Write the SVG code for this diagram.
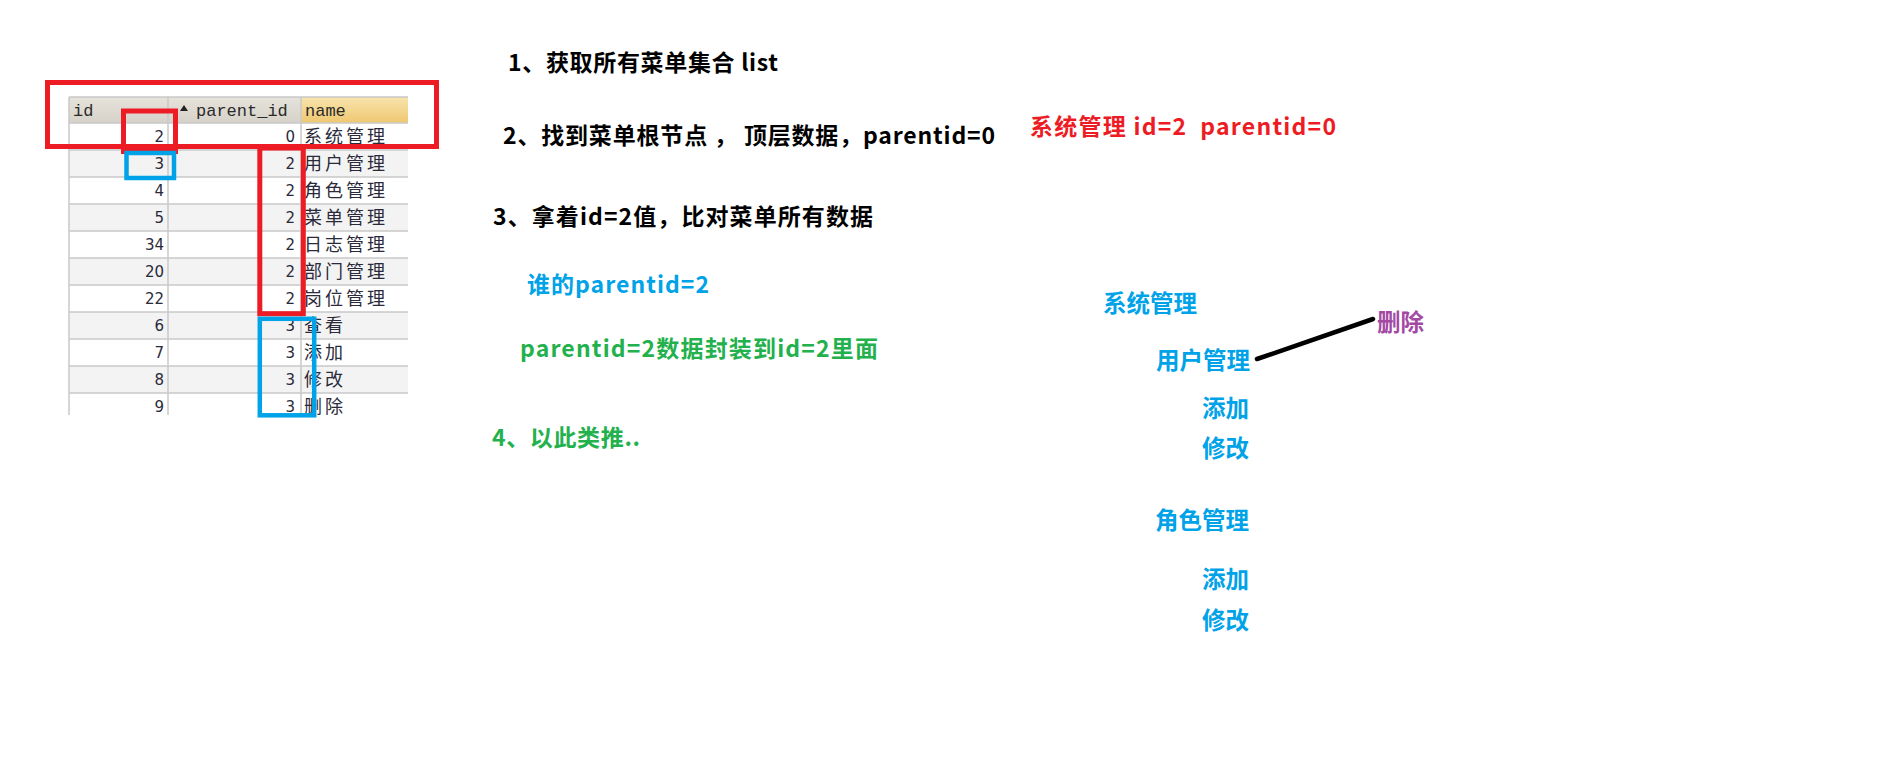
<svg xmlns="http://www.w3.org/2000/svg" width="1901" height="770" viewBox="0 0 1901 770">
<defs>
<linearGradient id="hdrGray" x1="0" y1="0" x2="0" y2="1"><stop offset="0" stop-color="#e6e3dc"/><stop offset="1" stop-color="#d6d2c9"/></linearGradient>
<linearGradient id="hdrName" x1="0" y1="0" x2="0" y2="1"><stop offset="0" stop-color="#f8e4ad"/><stop offset="1" stop-color="#efc770"/></linearGradient>
<clipPath id="tblClip"><rect x="60" y="90" width="348" height="325"/></clipPath>
</defs>
<style>
.h{font-family:"Noto Sans CJK SC","Microsoft YaHei",sans-serif;font-weight:bold;font-size:23px}
.t{font-size:23.5px}
.k{fill:#000}.r{fill:#ed1c24}.b{fill:#00a2e8}.g{fill:#22b14c}.p{fill:#a349a4}
.num{font-family:"DejaVu Sans",sans-serif;font-size:15px;fill:#2a2a3a;text-anchor:end}
.nm{font-family:"Noto Sans CJK SC",sans-serif;font-size:18px;letter-spacing:3px;fill:#2a2a3a}
.hd{font-family:"Liberation Mono",monospace;font-size:17px;fill:#2a2a2a}
.grid{stroke:#c9c9c9;stroke-width:1.5;fill:none}
.alt{fill:#f3f3f3}
.rb{fill:none;stroke:#ed1c24;stroke-width:5}
.bb{fill:none;stroke:#00a2e8;stroke-width:4.5}
</style>
<rect width="1901" height="770" fill="#fff"/>

<g id="table" clip-path="url(#tblClip)">
<rect x="69" y="97" width="232" height="26" fill="url(#hdrGray)"/>
<rect x="301" y="97" width="107" height="26" fill="url(#hdrName)"/>
<rect class="alt" x="69" y="150" width="339" height="27"/>
<rect class="alt" x="69" y="204" width="339" height="27"/>
<rect class="alt" x="69" y="258" width="339" height="27"/>
<rect class="alt" x="69" y="312" width="339" height="27"/>
<rect class="alt" x="69" y="366" width="339" height="27"/>
<path class="grid" d="M69 97H408M69 123H408M69 150H408M69 177H408M69 204H408M69 231H408M69 258H408M69 285H408M69 312H408M69 339H408M69 366H408M69 393H408M69 97V415M168 97V415M301 97V415"/>
<text class="hd" x="73" y="116">id</text>
<path d="M180 111L184 105L188 111Z" fill="#222"/>
<text class="hd" x="196" y="116">parent_id</text>
<text class="hd" x="305" y="116">name</text>
<g class="num">
<text x="164" y="142">2</text><text x="295" y="142">0</text>
<text x="164" y="169">3</text><text x="295" y="169">2</text>
<text x="164" y="196">4</text><text x="295" y="196">2</text>
<text x="164" y="223">5</text><text x="295" y="223">2</text>
<text x="164" y="250">34</text><text x="295" y="250">2</text>
<text x="164" y="277">20</text><text x="295" y="277">2</text>
<text x="164" y="304">22</text><text x="295" y="304">2</text>
<text x="164" y="331">6</text><text x="295" y="331">3</text>
<text x="164" y="358">7</text><text x="295" y="358">3</text>
<text x="164" y="385">8</text><text x="295" y="385">3</text>
<text x="164" y="412">9</text><text x="295" y="412">3</text>
</g>
<g class="nm">
<text x="304" y="143">系统管理</text>
<text x="304" y="170">用户管理</text>
<text x="304" y="197">角色管理</text>
<text x="304" y="224">菜单管理</text>
<text x="304" y="251">日志管理</text>
<text x="304" y="278">部门管理</text>
<text x="304" y="305">岗位管理</text>
<text x="304" y="332">查看</text>
<text x="304" y="359">添加</text>
<text x="304" y="386">修改</text>
<text x="304" y="413">删除</text>
</g>
</g>

<g id="highlights">
<rect class="rb" x="47.5" y="82.5" width="389" height="64"/>
<rect class="rb" x="123.5" y="111" width="52" height="40.5" stroke-width="4.5"/>
<rect class="bb" x="126.5" y="153" width="47.5" height="25"/>
<rect class="rb" x="259.8" y="148" width="43.5" height="165.7" stroke-width="4.5"/>
<rect class="bb" x="259.8" y="318.8" width="54.4" height="96.5"/>
</g>

<g id="step1"><text class="h k" x="508" y="71" textLength="270" lengthAdjust="spacing">1、获取所有菜单集合 list</text></g>
<g id="step2"><text class="h k" x="503" y="144" textLength="492" lengthAdjust="spacing">2、找到菜单根节点 ， 顶层数据，parentid=0</text></g>
<g id="root-note"><text class="h r" x="1030" y="135" textLength="306" lengthAdjust="spacing" xml:space="preserve" style="white-space:pre">系统管理 id=2  parentid=0</text></g>
<g id="step3"><text class="h k" x="493" y="225" textLength="380" lengthAdjust="spacing">3、拿着id=2值，比对菜单所有数据</text></g>
<g id="who"><text class="h b" x="527" y="293" textLength="182" lengthAdjust="spacing">谁的parentid=2</text></g>
<g id="wrap"><text class="h g" x="520" y="357" textLength="358" lengthAdjust="spacing">parentid=2数据封装到id=2里面</text></g>
<g id="step4"><text class="h g" x="492" y="446" textLength="148" lengthAdjust="spacing">4、以此类推..</text></g>

<g id="tree-sys"><text class="h t b" x="1103" y="312">系统管理</text></g>
<g id="tree-user"><text class="h t b" x="1156" y="369">用户管理</text></g>
<g id="tree-delete"><text class="h t p" x="1377" y="331">删除</text></g>
<g id="tree-user-add"><text class="h t b" x="1202" y="417">添加</text></g>
<g id="tree-user-edit"><text class="h t b" x="1202" y="457">修改</text></g>
<g id="tree-role"><text class="h t b" x="1155" y="529">角色管理</text></g>
<g id="tree-role-add"><text class="h t b" x="1202" y="588">添加</text></g>
<g id="tree-role-edit"><text class="h t b" x="1202" y="629">修改</text></g>

<g id="connectors">
<line x1="1257" y1="359" x2="1373" y2="319" stroke="#000" stroke-width="4.5" stroke-linecap="round"/>
</g>
</svg>
